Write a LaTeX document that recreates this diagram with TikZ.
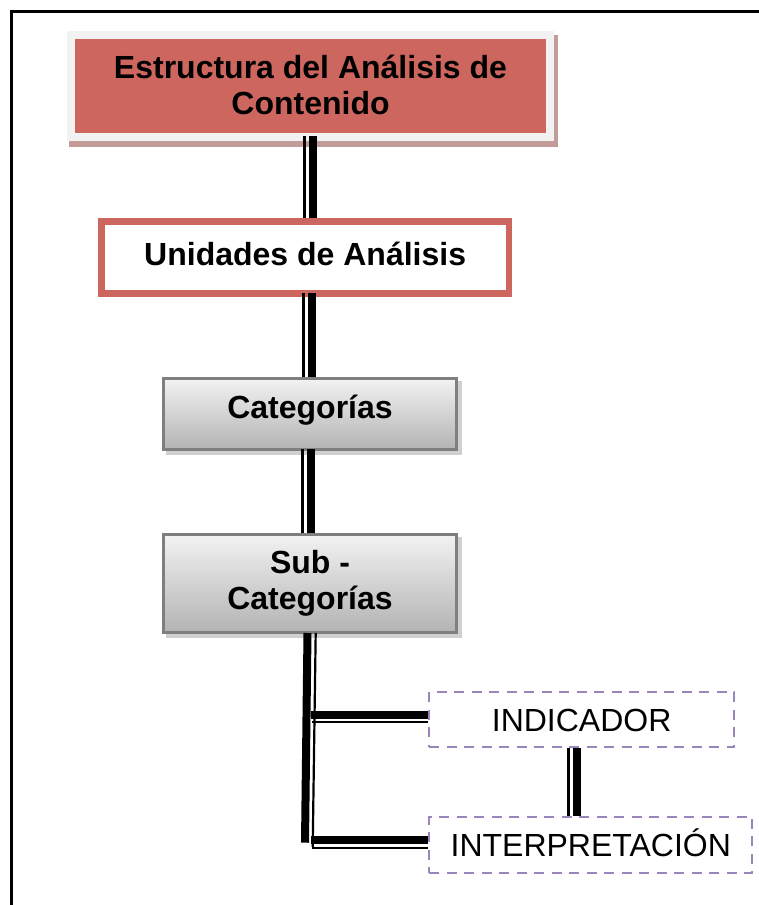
\documentclass[tikz,border=0pt]{standalone}
\usepackage{fontspec}
\setmainfont{Liberation Sans}
\usetikzlibrary{backgrounds}
\definecolor{hdrred}{HTML}{CD665E}
\definecolor{hdrframe}{HTML}{F2F2F2}
\definecolor{hdrshadow}{HTML}{C29C98}
\definecolor{boxgray}{HTML}{7F7F7F}
\definecolor{boxshadow}{HTML}{D0D0D0}
\definecolor{gradtop}{HTML}{F2F2F2}
\definecolor{gradbot}{HTML}{B3B3B3}
\definecolor{dashpurple}{HTML}{9B85BD}
\begin{document}
\begin{tikzpicture}[x=1pt,y=-1pt,
  every node/.style={inner sep=0pt, font=\fontsize{32}{36}\selectfont},
  boldtxt/.style={font=\fontsize{32}{36}\selectfont\bfseries},
  hdrbox/.style={boldtxt, fill=hdrred, draw=hdrframe, line width=8pt},
  unitbox/.style={boldtxt, fill=white, draw=hdrred, line width=6.5pt},
  graybox/.style={boldtxt, top color=gradtop, bottom color=gradbot, draw=boxgray, line width=3pt},
  dashbox/.style={draw=dashpurple, line width=2.3pt, dash pattern=on 10pt off 7.5pt, fill=white},
  thickc/.style={line width=8pt},
  thinc/.style={line width=2.5pt},
  thinnerc/.style={line width=2.2pt},
  frameline/.style={line width=3pt}
]
\useasboundingbox (0,0) rectangle (758,905);

% outer frame (only left and top edges visible)
\draw[frameline] (11,915) -- (11,11) -- (770,11);

% boxes
\node[hdrbox, minimum width=479pt, minimum height=102pt, text height=0pt, text depth=16pt]
  (hdr) at (310.5,86) {\vtop{\halign{\hfil#\hfil\cr Estructura del Análisis de\cr Contenido\cr}}};
\node[unitbox, minimum width=407.7pt, minimum height=72.1pt, text height=22pt, text depth=6.6pt]
  (unit) at (305.15,257.35) {Unidades de Análisis};
\node[graybox, minimum width=293.6pt, minimum height=70.7pt, text height=22pt, text depth=13.8pt]
  (cat) at (310,414.15) {Categorías};
\node[graybox, minimum width=293.6pt, minimum height=97.7pt, text height=0pt, text depth=20.7pt]
  (sub) at (310,583.65) {\vtop{\halign{\hfil#\hfil\cr Sub -\cr Categorías\cr}}};
\node[dashbox, minimum width=304.7pt, minimum height=55.3pt, text height=24pt, text depth=0pt]
  (ind) at (581.65,719.65) {INDICADOR};
\node[dashbox, minimum width=323pt, minimum height=56.3pt, text height=23pt, text depth=0pt]
  (interp) at (590.8,845.15) {INTERPRETACIÓN};

% shadows
\begin{scope}[on background layer]
  \fill[hdrshadow] ([shift={(2,4)}]hdr.north west) rectangle ([shift={(3.5,5.5)}]hdr.south east);
  \fill[boxshadow] ([shift={(4,4)}]cat.north west) rectangle ([shift={(4,4)}]cat.south east);
  \fill[boxshadow] ([shift={(4,4)}]sub.north west) rectangle ([shift={(4,4)}]sub.south east);
\end{scope}

% x positions of the double connectors
\coordinate (v1a) at (304.3,0); \coordinate (v1b) at (312.7,0);
\coordinate (v2a) at (303.5,0); \coordinate (v2b) at (311.5,0);
\coordinate (v3a) at (302.5,0); \coordinate (v3b) at (310.5,0);
\coordinate (k1) at (307.5,0);  \coordinate (kend) at (305,842.7);
\coordinate (n1) at (315.7,0);  \coordinate (nend) at (312.7,847);
\coordinate (hxa) at (311,0);   \coordinate (hxb) at (311.7,0);
\coordinate (w1) at (568.7,0);  \coordinate (w2) at (576.5,0);

% connectors
\draw[thinc]  ([yshift=5pt]hdr.south -| v1a) -- (unit.north -| v1a);
\draw[thickc] ([yshift=5pt]hdr.south -| v1b) -- (unit.north -| v1b);
\draw[thinc]  ([yshift=3.3pt]unit.south -| v2a) -- (cat.north -| v2a);
\draw[thickc] ([yshift=3.3pt]unit.south -| v2b) -- (cat.north -| v2b);
\draw[thinc]  ([yshift=1.7pt]cat.south -| v3a) -- (sub.north -| v3a);
\draw[thickc] ([yshift=1.7pt]cat.south -| v3b) -- (sub.north -| v3b);

\draw[thickc]   ([yshift=1pt]sub.south -| k1) -- (kend);
\draw[thinnerc] ([yshift=1pt]sub.south -| n1) -- (nend);

\draw[thickc]   ([yshift=5pt]ind.west) -- ([yshift=5pt]ind.west -| hxa);
\draw[thinnerc] ([yshift=-2.15pt]ind.west) -- ([yshift=-2.15pt]ind.west -| hxb);
\draw[thickc]   ([yshift=5.15pt]interp.west) -- ([yshift=5.15pt]interp.west -| hxa);
\draw[thinnerc] ([yshift=-2.85pt]interp.west) -- ([yshift=-2.85pt]interp.west -| hxb);

\draw[thinc]  (ind.south -| w1) -- (interp.north -| w1);
\draw[thickc] (ind.south -| w2) -- (interp.north -| w2);
\end{tikzpicture}
\end{document}
